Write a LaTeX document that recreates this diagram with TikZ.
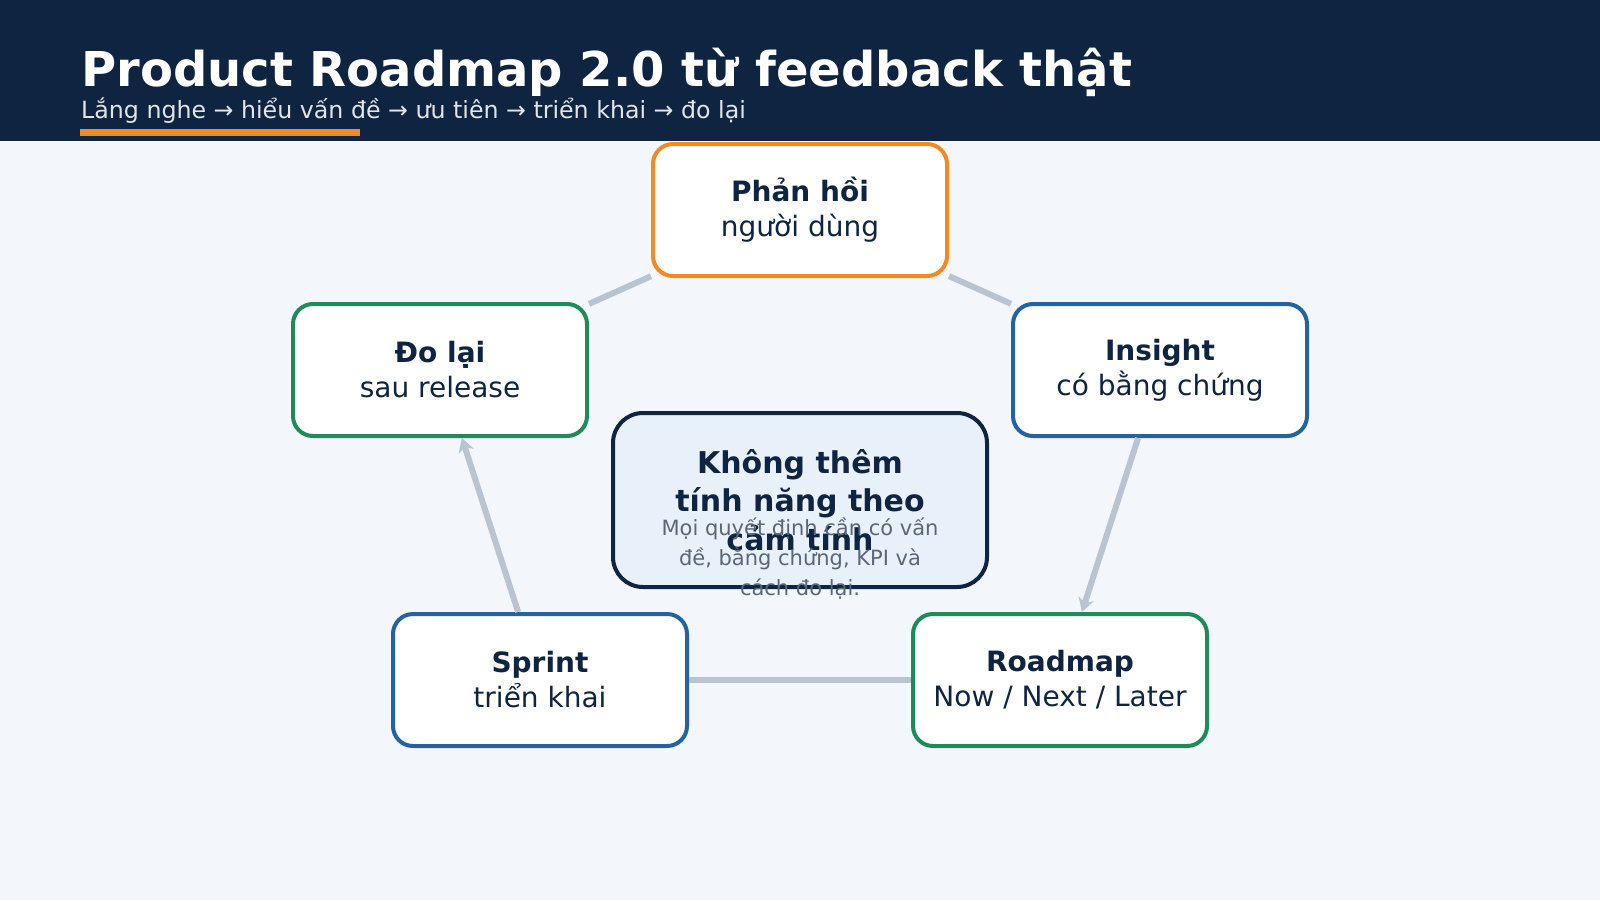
\documentclass[tikz,border=0pt]{standalone}
\usepackage{fontspec}
\setmainfont{DejaVu Sans}
\usetikzlibrary{positioning}
\usetikzlibrary{arrows.meta}
\definecolor{navy}{HTML}{0F2440}
\definecolor{bgpaper}{HTML}{F3F7FB}
\definecolor{accent}{HTML}{F08A24}
\definecolor{okgreen}{HTML}{1F8A5B}
\definecolor{okblue}{HTML}{2563A0}
\definecolor{linkgray}{HTML}{B8C4D2}
\definecolor{softblue}{HTML}{E8F0FA}
\definecolor{notegray}{HTML}{5A6778}
\tikzset{
  % step boxes on the loop
  stepbox/.style = {draw, line width=4pt, rounded corners=20pt, fill=white,
    minimum width=294pt, minimum height=132pt, align=center,
    text=navy, font=\fontsize{28}{35}\selectfont},
  pushdown/.style={execute at begin node={\rule{0pt}{#1}}},
  ringorange/.style={draw=accent},
  ringgreen/.style={draw=okgreen},
  ringblue/.style={draw=okblue},
  % links between steps
  link/.style={linkgray, line width=6pt},
  flow/.style={link, -{Stealth[length=14pt,width=16pt]}},
}
\begin{document}
\begin{tikzpicture}[x=1pt,y=-1pt]
      \useasboundingbox (0,0) rectangle (1600,900);
      \fill[bgpaper] (0,0) rectangle (1600,900);
      \fill[navy] (0,0) rectangle (1600,141);
      \node[anchor=base west, inner sep=0pt, text=white, font=\fontsize{48}{52}\selectfont\bfseries] (title) at (81,86) {Product Roadmap 2.0 từ feedback thật};
      \node[anchor=base west, inner sep=0pt, text=white!88!navy, font=\fontsize{23.7}{26}\selectfont] (sub) at (81,118) {Lắng nghe → hiểu vấn đề → ưu tiên → triển khai → đo lại};
      \fill[accent] (80,129) rectangle (360,136);

      \node[stepbox, ringorange, pushdown=56pt] (phan) at (800,210) {\textbf{Phản hồi}\\người dùng};
      \node[stepbox, ringblue, pushdown=56pt] (ins) at (1160,370) {\textbf{Insight}\\có bằng chứng};
      \node[stepbox, ringgreen, pushdown=56pt] (road) at (1060,680) {\textbf{Roadmap}\\Now / Next / Later};
      \node[stepbox, ringblue, pushdown=56pt] (spr) at (540,680) {\textbf{Sprint}\\triển khai};
      \node[stepbox, ringgreen, pushdown=56pt] (dolai) at (440,370) {\textbf{Đo lại}\\sau release};

      \draw [link] (phan) -- (ins);
      \draw [flow] (ins) -- (road);
      \draw [link] (road) -- (spr);
      \draw [flow] (spr) -- (dolai);
      \draw [link] (dolai) -- (phan);

      \node[stepbox, draw=navy, fill=softblue, minimum width=374pt, minimum height=174pt, rounded corners=30pt,
        pushdown=42pt, font=\fontsize{30}{38.5}\selectfont\bfseries] (core) at (800,500) {Không thêm\\tính năng theo\\cảm tính};
      \node[text=notegray, align=center, font=\fontsize{21}{30}\selectfont] (note) at (800,559) {Mọi quyết định cần có vấn\\đề, bằng chứng, KPI và\\cách đo lại.};
\end{tikzpicture}
\end{document}
